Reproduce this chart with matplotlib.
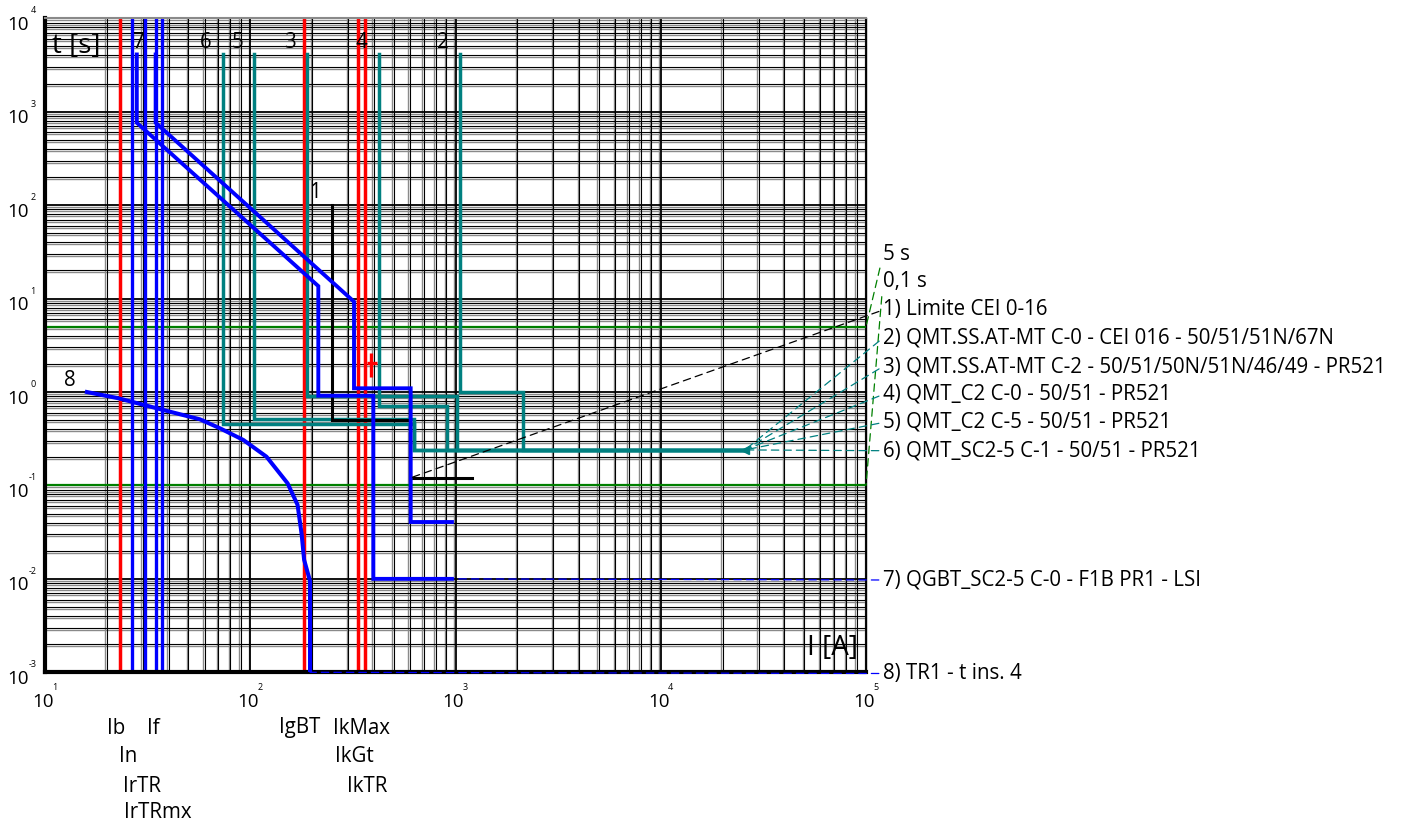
import numpy as np
import matplotlib
matplotlib.use('Agg')
import matplotlib.pyplot as plt
from matplotlib.ticker import LogLocator, NullFormatter

plt.rcParams['font.family'] = ['Open Sans', 'DejaVu Sans']

# ---------------- data ----------------
red_I = [23.2, 182.8, 333.8, 362.0]          # Ib, IgBT, IkMax/IkGt, IkTR
blue_I = [26.6, 30.8, 34.6, 37.0]            # In, If, IrTR, IrTRmx
green_t = [5.0, 0.1]                         # 5 s, 0,1 s

c1_I = [250, 250, 600, 600, 1200]
c1_t = [100, 0.5, 0.5, 0.12, 0.12]

c2_I = [1055, 1055, 2125, 2125, 25700]
c2_t = [4100, 1.0, 1.0, 0.24, 0.24]
c3_I = [189.7, 189.7, 1013, 1013, 25700]
c3_t = [4100, 0.906, 0.906, 0.24, 0.24]
c4_I = [422.6, 422.6, 909, 909, 25700]
c4_t = [4100, 0.708, 0.708, 0.24, 0.24]
c5_I = [104.6, 104.6, 628, 628, 25700]
c5_t = [4100, 0.51, 0.51, 0.24, 0.24]
c6_I = [73.9, 73.9, 628, 628, 25700]
c6_t = [4100, 0.46, 0.46, 0.24, 0.24]

c7a_I = [28.0, 28.0, 214.6, 214.6, 397.7, 397.7, 961]
c7a_t = [4100, 763, 13.6, 0.913, 0.913, 0.01, 0.01]
c7b_I = [34.6, 34.6, 320.3, 320.3, 604.8, 604.8, 961]
c7b_t = [4100, 763, 9.26, 1.096, 1.096, 0.0406, 0.0406]

c8_I = [16, 22.8, 37.7, 56.9, 71.2, 92.5, 120, 152, 170, 178, 183, 195.5, 195.5]
c8_t = [1.0, 0.857, 0.642, 0.51, 0.409, 0.307, 0.203, 0.1055, 0.062, 0.03, 0.016, 0.0095, 0.001]

mark_I, mark_t = 387, 2.03
mark_Ierr = [[18], [26]]
mark_terr = [[0.57], [0.59]]

x_decades = [1, 2, 3, 4, 5]
y_decades = [-3, -2, -1, 0, 1, 2, 3, 4]

bottom_labels = ['Ib', 'If', 'In', 'IrTR', 'IrTRmx', 'IgBT', 'IkMax', 'IkGt', 'IkTR']
right_labels = ['5 s', '0,1 s', '1) Limite CEI 0-16',
                '2) QMT.SS.AT-MT C-0 - CEI 016 - 50/51/51N/67N',
                '3) QMT.SS.AT-MT C-2 - 50/51/50N/51N/46/49 - PR521',
                '4) QMT_C2 C-0 - 50/51 - PR521',
                '5) QMT_C2 C-5 - 50/51 - PR521',
                '6) QMT_SC2-5 C-1 - 50/51 - PR521',
                '7) QGBT_SC2-5 C-0 - F1B PR1 - LSI',
                '8) TR1 - t ins. 4']

# ---------------- layout ----------------
W, H, DPI = 1416, 826, 100
fig = plt.figure(figsize=(W / DPI, H / DPI), dpi=DPI)
L, R, T, B = 45, 866, 18.3, 672.3
pos = [L / W, 1 - B / H, (R - L) / W, (B - T) / H]
XLIM = (10, 1e5)
YLIM = (1e-3, 1e4)

RED, BLUE, TEAL, GREEN, BLACK = '#ff0000', '#0000ff', '#008080', '#008000', '#000000'
FS = 14.8

def fp(px, py):
    return (px / W, 1 - py / H)

# gray offset grid (double-line look)
axg = fig.add_axes(pos, zorder=0)
fx = 10 ** (1.5 / 205.25)
fy = 10 ** (2.0 / 93.43)
axg.set_xscale('log'); axg.set_yscale('log')
axg.set_xlim(XLIM[0] * fx, XLIM[1] * fx)
axg.set_ylim(YLIM[0] * fy, YLIM[1] * fy)
for a in (axg.xaxis, axg.yaxis):
    a.set_major_locator(LogLocator(base=10, numticks=20))
    a.set_minor_locator(LogLocator(base=10, subs=np.arange(2, 10), numticks=200))
    a.set_major_formatter(NullFormatter()); a.set_minor_formatter(NullFormatter())
axg.grid(which='both', color='#8a8a8a', lw=1.0)
axg.tick_params(which='both', length=0)
for s in axg.spines.values():
    s.set_visible(False)

ax = fig.add_axes(pos, zorder=1)
ax.set_facecolor('none')
ax.set_xscale('log'); ax.set_yscale('log')
ax.set_xlim(*XLIM); ax.set_ylim(*YLIM)
for a in (ax.xaxis, ax.yaxis):
    a.set_major_locator(LogLocator(base=10, numticks=20))
    a.set_minor_locator(LogLocator(base=10, subs=np.arange(2, 10), numticks=200))
    a.set_major_formatter(NullFormatter()); a.set_minor_formatter(NullFormatter())
ax.grid(which='major', color='black', lw=1.3, zorder=0.5)
ax.grid(which='minor', color='black', lw=0.8, zorder=0.5)
ax.tick_params(which='both', length=0)
ax.spines['left'].set_linewidth(3)
ax.spines['bottom'].set_linewidth(3)
ax.spines['top'].set_color('#8a8a8a'); ax.spines['top'].set_linewidth(1.5)
ax.spines['right'].set_linewidth(1.0)

# tick labels
for d in x_decades:
    ax.annotate('10', xy=(10.0 ** d, YLIM[0]), xytext=(-2, -29.5), textcoords='offset pixels',
                ha='center', va='center', fontsize=13.5, annotation_clip=False)
    ax.annotate(str(d), xy=(10.0 ** d, YLIM[0]), xytext=(10, -15), textcoords='offset pixels',
                ha='center', va='center', fontsize=6.5, annotation_clip=False)
for d in y_decades:
    ax.annotate('10', xy=(XLIM[0], 10.0 ** d), xytext=(-27, -6.5), textcoords='offset pixels',
                ha='center', va='center', fontsize=13.5, annotation_clip=False)
    ax.annotate(str(d), xy=(XLIM[0], 10.0 ** d), xytext=(-12, 7.5), textcoords='offset pixels',
                ha='center', va='center', fontsize=6.5, annotation_clip=False)

# reference lines
for t in green_t:
    ax.axhline(t, color=GREEN, lw=1.6, zorder=2)
for I in red_I:
    ax.axvline(I, color=RED, lw=2.5, zorder=2.2)
for I in blue_I:
    ax.axvline(I, color=BLUE, lw=2.4, zorder=2.2)

# curves
for cI, ct in [(c6_I, c6_t), (c5_I, c5_t), (c4_I, c4_t), (c3_I, c3_t), (c2_I, c2_t)]:
    ax.plot(cI, ct, color=TEAL, lw=2.5, zorder=3, solid_joinstyle='miter')
ax.plot(c7a_I, c7a_t, color=BLUE, lw=2.8, zorder=3.5, solid_joinstyle='miter')
ax.plot(c7b_I, c7b_t, color=BLUE, lw=2.8, zorder=3.5, solid_joinstyle='miter')
ax.plot(c8_I, c8_t, color=BLUE, lw=2.9, zorder=3.5)
ax.plot(c1_I, c1_t, color=BLACK, lw=2.2, zorder=3.4, solid_joinstyle='miter')
ax.errorbar([mark_I], [mark_t], xerr=mark_Ierr, yerr=mark_terr, fmt='none',
            ecolor=RED, elinewidth=2.4, capsize=0, zorder=3.6)
ax.plot([c6_I[-1]], [c6_t[-1]], marker='<', color=TEAL, ms=6, zorder=3.6)

# leader lines + right labels
lab_y = [255, 282, 310, 338, 366.5, 394.5, 422.5, 450.7, 580, 673.5]
anchors = [(XLIM[1], green_t[0], GREEN), (XLIM[1], green_t[1], GREEN),
           (c1_I[2], c1_t[-1], BLACK),
           (c2_I[-1], c2_t[-1], TEAL), (c3_I[-1], c3_t[-1], TEAL), (c4_I[-1], c4_t[-1], TEAL),
           (c5_I[-1], c5_t[-1], TEAL), (c6_I[-1], c6_t[-1], TEAL),
           (c7a_I[-1], c7a_t[-1], BLUE), (c8_I[-1], c8_t[-1], BLUE)]
for txt, y, (aI, at, col) in zip(right_labels, lab_y, anchors):
    ax.annotate(txt, xy=(aI, at), xycoords='data',
                xytext=fp(883, y), textcoords='figure fraction',
                ha='left', va='center', fontsize=FS, annotation_clip=False,
                arrowprops=dict(arrowstyle='-', color=col, lw=0.9, linestyle=(0, (6, 4)),
                                shrinkA=1, shrinkB=0, relpos=(0, 0.5)), zorder=5)

# curve numbers and axis titles
for s, px, py in [('7', 138, 43), ('6', 206, 43), ('5', 237.5, 43), ('3', 290, 43),
                  ('4', 361, 43), ('2', 443, 43), ('1', 315, 192), ('8', 70, 380)]:
    fig.text(*fp(px, py), s, ha='center', va='center', fontsize=FS, zorder=6)
fig.text(*fp(76, 46), 't [s]', ha='center', va='center', fontsize=20, zorder=6)
fig.text(*fp(832, 648), 'I [A]', ha='center', va='center', fontsize=20, zorder=6)

# bottom labels
for s, px, py in zip(bottom_labels,
                     [116, 153, 128.5, 141.7, 158, 300, 361, 354, 367],
                     [728, 728, 757, 786, 813, 728, 728, 757, 786]):
    fig.text(*fp(px, py), s, ha='center', va='center', fontsize=FS)

fig.savefig('out.png', dpi=DPI, facecolor='white')
